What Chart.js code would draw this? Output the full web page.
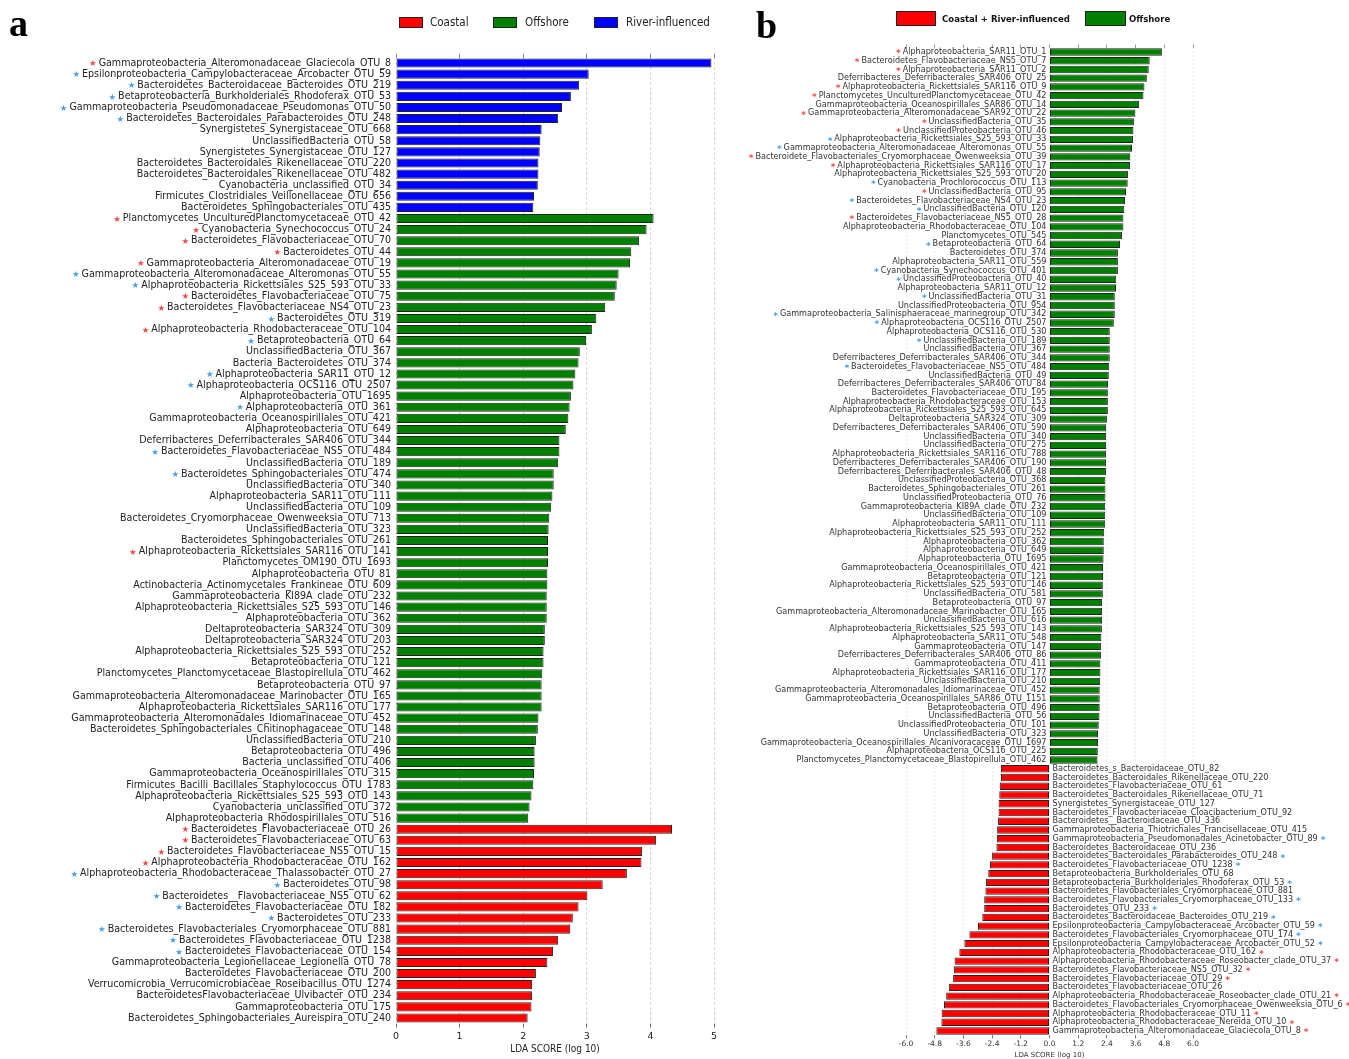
<!DOCTYPE html>
<html>
<head>
<meta charset="utf-8">
<script src="https://cdn.jsdelivr.net/npm/chart.js@4.4.0/dist/chart.umd.min.js"></script>
<style>
  body { margin: 0; background: #fff; }
  #page { position: relative; width: 1349px; height: 1059px; overflow: hidden; background: #fff; }
  #wrapA { position: absolute; left: 0; top: 0; width: 740px; height: 1059px; }
  #wrapB { position: absolute; left: 740px; top: 0; width: 609px; height: 1059px; }
  .letter { position: absolute; font: bold 38px 'Liberation Serif', 'DejaVu Serif', serif; color: #000; line-height: 1; }
  .box { position: absolute; border: 1px solid #222; box-sizing: border-box; }
  .legA { position: absolute; font: 11.5px 'DejaVu Sans Condensed', 'Liberation Sans Narrow', sans-serif; color: #222; line-height: 14px; white-space: nowrap; }
  .legB { position: absolute; font: bold 9.5px 'DejaVu Sans Condensed', 'Liberation Sans Narrow', sans-serif; color: #111; line-height: 14px; white-space: nowrap; }
</style>
</head>
<body>
<div id="page">
  <div id="wrapA"><canvas id="chartA" width="740" height="1059"></canvas></div>
  <div id="wrapB"><canvas id="chartB" width="609" height="1059"></canvas></div>

  <div class="letter" style="left:9px;top:4px">a</div>
  <div class="letter" style="left:756px;top:6px">b</div>

  <div class="box" style="left:399px;top:17px;width:24px;height:11px;background:#ff0000"></div>
  <div class="legA" style="left:430px;top:15px">Coastal</div>
  <div class="box" style="left:493px;top:17px;width:24px;height:11px;background:#008000"></div>
  <div class="legA" style="left:525px;top:15px">Offshore</div>
  <div class="box" style="left:594px;top:17px;width:24px;height:11px;background:#0000ff"></div>
  <div class="legA" style="left:626px;top:15px">River-influenced</div>

  <div class="box" style="left:896px;top:11px;width:40px;height:15px;background:#ff0000;border-width:1.5px"></div>
  <div class="legB" style="left:942px;top:12px">Coastal + River-influenced</div>
  <div class="box" style="left:1085px;top:11px;width:41px;height:15px;background:#008000;border-width:1.5px"></div>
  <div class="legB" style="left:1129px;top:12px">Offshore</div>
</div>

<script>
// ---------- panel a ----------
const aRiverLabels = [
  'Gammaproteobacteria_Alteromonadaceae_Glaciecola_OTU_8',
  'Epsilonproteobacteria_Campylobacteraceae_Arcobacter_OTU_59',
  'Bacteroidetes_Bacteroidaceae_Bacteroides_OTU_219',
  'Betaproteobacteria_Burkholderiales_Rhodoferax_OTU_53',
  'Gammaproteobacteria_Pseudomonadaceae_Pseudomonas_OTU_50',
  'Bacteroidetes_Bacteroidales_Parabacteroides_OTU_248',
  'Synergistetes_Synergistaceae_OTU_668',
  'UnclassifiedBacteria_OTU_58',
  'Synergistetes_Synergistaceae_OTU_127',
  'Bacteroidetes_Bacteroidales_Rikenellaceae_OTU_220',
  'Bacteroidetes_Bacteroidales_Rikenellaceae_OTU_482',
  'Cyanobacteria_unclassified_OTU_34',
  'Firmicutes_Clostridiales_Veillonellaceae_OTU_656',
  'Bacteroidetes_Sphingobacteriales_OTU_435'
];
const aRiverScores = [4.96, 3.03, 2.88, 2.75, 2.61, 2.55, 2.29, 2.27, 2.26, 2.24, 2.24, 2.23, 2.17, 2.16];
const aRiverStars = ['r', 'b', 'b', 'b', 'b', 'b', '', '', '', '', '', '', '', ''];

const aOffshoreLabels = [
  'Planctomycetes_UnculturedPlanctomycetaceae_OTU_42',
  'Cyanobacteria_Synechococcus_OTU_24',
  'Bacteroidetes_Flavobacteriaceae_OTU_70',
  'Bacteroidetes_OTU_44',
  'Gammaproteobacteria_Alteromonadaceae_OTU_19',
  'Gammaproteobacteria_Alteromonadaceae_Alteromonas_OTU_55',
  'Alphaproteobacteria_Rickettsiales_S25_593_OTU_33',
  'Bacteroidetes_Flavobacteriaceae_OTU_75',
  'Bacteroidetes_Flavobacteriaceae_NS4_OTU_23',
  'Bacteroidetes_OTU_319',
  'Alphaproteobacteria_Rhodobacteraceae_OTU_104',
  'Betaproteobacteria_OTU_64',
  'UnclassifiedBacteria_OTU_367',
  'Bacteria_Bacteroidetes_OTU_374',
  'Alphaproteobacteria_SAR11_OTU_12',
  'Alphaproteobacteria_OCS116_OTU_2507',
  'Alphaproteobacteria_OTU_1695',
  'Alphaproteobacteria_OTU_361',
  'Gammaproteobacteria_Oceanospirillales_OTU_421',
  'Alphaproteobacteria_OTU_649',
  'Deferribacteres_Deferribacterales_SAR406_OTU_344',
  'Bacteroidetes_Flavobacteriaceae_NS5_OTU_484',
  'UnclassifiedBacteria_OTU_189',
  'Bacteroidetes_Sphingobacteriales_OTU_474',
  'UnclassifiedBacteria_OTU_340',
  'Alphaproteobacteria_SAR11_OTU_111',
  'UnclassifiedBacteria_OTU_109',
  'Bacteroidetes_Cryomorphaceae_Owenweeksia_OTU_713',
  'UnclassifiedBacteria_OTU_323',
  'Bacteroidetes_Sphingobacteriales_OTU_261',
  'Alphaproteobacteria_Rickettsiales_SAR116_OTU_141',
  'Planctomycetes_OM190_OTU_1693',
  'Alphaproteobacteria_OTU_81',
  'Actinobacteria_Actinomycetales_Frankineae_OTU_609',
  'Gammaproteobacteria_KI89A_clade_OTU_232',
  'Alphaproteobacteria_Rickettsiales_S25_593_OTU_146',
  'Alphaproteobacteria_OTU_362',
  'Deltaproteobacteria_SAR324_OTU_309',
  'Deltaproteobacteria_SAR324_OTU_203',
  'Alphaproteobacteria_Rickettsiales_S25_593_OTU_252',
  'Betaproteobacteria_OTU_121',
  'Planctomycetes_Planctomycetaceae_Blastopirellula_OTU_462',
  'Betaproteobacteria_OTU_97',
  'Gammaproteobacteria_Alteromonadaceae_Marinobacter_OTU_165',
  'Alphaproteobacteria_Rickettsiales_SAR116_OTU_177',
  'Gammaproteobacteria_Alteromonadales_Idiomarinaceae_OTU_452',
  'Bacteroidetes_Sphingobacteriales_Chitinophagaceae_OTU_148',
  'UnclassifiedBacteria_OTU_210',
  'Betaproteobacteria_OTU_496',
  'Bacteria_unclassified_OTU_406',
  'Gammaproteobacteria_Oceanospirillales_OTU_315',
  'Firmicutes_Bacilli_Bacillales_Staphylococcus_OTU_1783',
  'Alphaproteobacteria_Rickettsiales_S25_593_OTU_143',
  'Cyanobacteria_unclassified_OTU_372',
  'Alphaproteobacteria_Rhodospirillales_OTU_516'
];
const aOffshoreScores = [
  4.05, 3.94, 3.82, 3.70, 3.68, 3.50, 3.47, 3.44, 3.29, 3.15, 3.08,
  2.99, 2.89, 2.87, 2.82, 2.79, 2.75, 2.73, 2.71, 2.67, 2.57, 2.57,
  2.55, 2.48, 2.48, 2.46, 2.44, 2.41, 2.40, 2.39, 2.39, 2.39, 2.38,
  2.38, 2.37, 2.37, 2.37, 2.34, 2.34, 2.32, 2.32, 2.30, 2.29, 2.29,
  2.29, 2.24, 2.23, 2.20, 2.18, 2.18, 2.17, 2.16, 2.13, 2.10, 2.08
];
const aOffshoreStars = [
  'r', 'r', 'r', 'r', 'r', 'b', 'b', 'r', 'r', 'b', 'r',
  'b', '', '', 'b', 'b', '', 'b', '', '', '', 'b',
  '', 'b', '', '', '', '', '', '', 'r', '', '',
  '', '', '', '', '', '', '', '', '', '', '',
  '', '', '', '', '', '', '', '', '', '', ''
];

const aCoastalLabels = [
  'Bacteroidetes_Flavobacteriaceae_OTU_26',
  'Bacteroidetes_Flavobacteriaceae_OTU_63',
  'Bacteroidetes_Flavobacteriaceae_NS5_OTU_15',
  'Alphaproteobacteria_Rhodobacteraceae_OTU_162',
  'Alphaproteobacteria_Rhodobacteraceae_Thalassobacter_OTU_27',
  'Bacteroidetes_OTU_98',
  'Bacteroidetes__Flavobacteriaceae_NS5_OTU_62',
  'Bacteroidetes_Flavobacteriaceae_OTU_182',
  'Bacteroidetes_OTU_233',
  'Bacteroidetes_Flavobacteriales_Cryomorphaceae_OTU_881',
  'Bacteroidetes_Flavobacteriaceae_OTU_1238',
  'Bacteroidetes_Flavobacteriaceae_OTU_154',
  'Gammaproteobacteria_Legionellaceae_Legionella_OTU_78',
  'Bacteroidetes_Flavobacteriaceae_OTU_200',
  'Verrucomicrobia_Verrucomicrobiaceae_Roseibacillus_OTU_1274',
  'BacteroidetesFlavobacteriaceae_Ulvibacter_OTU_234',
  'Gammaproteobacteria_OTU_175',
  'Bacteroidetes_Sphingobacteriales_Aureispira_OTU_240'
];
const aCoastalScores = [4.34, 4.09, 3.87, 3.86, 3.63, 3.25, 3.01, 2.87, 2.78, 2.74, 2.55, 2.47, 2.38, 2.20, 2.14, 2.14, 2.13, 2.07];
const aCoastalStars = ['r', 'r', 'r', 'r', 'b', 'b', 'b', 'b', 'b', 'b', 'b', 'b', '', '', '', '', '', ''];

const ticksA = [0, 1, 2, 3, 4, 5];

// ---------- panel b ----------
const bOffshoreLabels = [
  'Alphaproteobacteria_SAR11_OTU_1',
  'Bacteroidetes_Flavobacteriaceae_NS5_OTU_7',
  'Alphaproteobacteria_SAR11_OTU_2',
  'Deferribacteres_Deferribacterales_SAR406_OTU_25',
  'Alphaproteobacteria_Rickettsiales_SAR116_OTU_9',
  'Planctomycetes_UnculturedPlanctomycetaceae_OTU_42',
  'Gammaproteobacteria_Oceanospirillales_SAR86_OTU_14',
  'Gammaproteobacteria_Alteromonadaceae_SAR92_OTU_22',
  'UnclassifiedBacteria_OTU_35',
  'UnclassifiedProteobacteria_OTU_46',
  'Alphaproteobacteria_Rickettsiales_S25_593_OTU_33',
  'Gammaproteobacteria_Alteromonadaceae_Alteromonas_OTU_55',
  'Bacteroidete_Flavobacteriales_Cryomorphaceae_Owenweeksia_OTU_39',
  'Alphaproteobacteria_Rickettsiales_SAR116_OTU_17',
  'Alphaproteobacteria_Rickettsiales_S25_593_OTU_20',
  'Cyanobacteria_Prochlorococcus_OTU_113',
  'UnclassifiedBacteria_OTU_95',
  'Bacteroidetes_Flavobacteriaceae_NS4_OTU_23',
  'UnclassifiedBacteria_OTU_120',
  'Bacteroidetes_Flavobacteriaceae_NS5_OTU_28',
  'Alphaproteobacteria_Rhodobacteraceae_OTU_104',
  'Planctomycetes_OTU_545',
  'Betaproteobacteria_OTU_64',
  'Bacteroidetes_OTU_374',
  'Alphaproteobacteria_SAR11_OTU_559',
  'Cyanobacteria_Synechococcus_OTU_401',
  'UnclassifiedProteobacteria_OTU_40',
  'Alphaproteobacteria_SAR11_OTU_12',
  'UnclassifiedBacteria_OTU_31',
  'UnclassifiedProteobacteria_OTU_954',
  'Gammaproteobacteria_Salinisphaeraceae_marinegroup_OTU_342',
  'Alphaproteobacteria_OCS116_OTU_2507',
  'Alphaproteobacteria_OCS116_OTU_530',
  'UnclassifiedBacteria_OTU_189',
  'UnclassifiedBacteria_OTU_367',
  'Deferribacteres_Deferribacterales_SAR406_OTU_344',
  'Bacteroidetes_Flavobacteriaceae_NS5_OTU_484',
  'UnclassifiedBacteria_OTU_49',
  'Deferribacteres_Deferribacterales_SAR406_OTU_84',
  'Bacteroidetes_Flavobacteriaceae_OTU_195',
  'Alphaproteobacteria_Rhodobacteraceae_OTU_153',
  'Alphaproteobacteria_Rickettsiales_S25_593_OTU_645',
  'Deltaproteobacteria_SAR324_OTU_309',
  'Deferribacteres_Deferribacterales_SAR406_OTU_590',
  'UnclassifiedBacteria_OTU_340',
  'UnclassifiedBacteria_OTU_275',
  'Alphaproteobacteria_Rickettsiales_SAR116_OTU_788',
  'Deferribacteres_Deferribacterales_SAR406_OTU_190',
  'Deferribacteres_Deferribacterales_SAR406_OTU_48',
  'UnclassifiedProteobacteria_OTU_368',
  'Bacteroidetes_Sphingobacteriales_OTU_261',
  'UnclassifiedProteobacteria_OTU_76',
  'Gammaproteobacteria_KI89A_clade_OTU_232',
  'UnclassifiedBacteria_OTU_109',
  'Alphaproteobacteria_SAR11_OTU_111',
  'Alphaproteobacteria_Rickettsiales_S25_593_OTU_252',
  'Alphaproteobacteria_OTU_362',
  'Alphaproteobacteria_OTU_649',
  'Alphaproteobacteria_OTU_1695',
  'Gammaproteobacteria_Oceanospirillales_OTU_421',
  'Betaproteobacteria_OTU_121',
  'Alphaproteobacteria_Rickettsiales_S25_593_OTU_146',
  'UnclassifiedBacteria_OTU_581',
  'Betaproteobacteria_OTU_97',
  'Gammaproteobacteria_Alteromonadaceae_Marinobacter_OTU_165',
  'UnclassifiedBacteria_OTU_616',
  'Alphaproteobacteria_Rickettsiales_S25_593_OTU_143',
  'Alphaproteobacteria_SAR11_OTU_548',
  'Gammaproteobacteria_OTU_147',
  'Deferribacteres_Deferribacterales_SAR406_OTU_86',
  'Gammaproteobacteria_OTU_411',
  'Alphaproteobacteria_Rickettsiales_SAR116_OTU_177',
  'UnclassifiedBacteria_OTU_210',
  'Gammaproteobacteria_Alteromonadales_Idiomarinaceae_OTU_452',
  'Gammaproteobacteria_Oceanospirillales_SAR86_OTU_1151',
  'Betaproteobacteria_OTU_496',
  'UnclassifiedBacteria_OTU_56',
  'UnclassifiedProteobacteria_OTU_101',
  'UnclassifiedBacteria_OTU_323',
  'Gammaproteobacteria_Oceanospirillales_Alcanivoracaceae_OTU_1697',
  'Alphaproteobacteria_OCS116_OTU_225',
  'Planctomycetes_Planctomycetaceae_Blastopirellula_OTU_462'
];
const bOffshoreScores = [
  4.70, 4.19, 4.15, 4.07, 3.97, 3.93, 3.74, 3.59, 3.53, 3.51,
  3.49, 3.45, 3.38, 3.37, 3.28, 3.27, 3.20, 3.16, 3.13, 3.09,
  3.09, 3.03, 2.95, 2.86, 2.86, 2.86, 2.79, 2.78, 2.73, 2.73,
  2.73, 2.69, 2.52, 2.52, 2.52, 2.52, 2.50, 2.48, 2.45, 2.44,
  2.44, 2.44, 2.40, 2.37, 2.37, 2.37, 2.36, 2.36, 2.36, 2.34,
  2.34, 2.34, 2.33, 2.33, 2.33, 2.29, 2.27, 2.27, 2.26, 2.24,
  2.24, 2.23, 2.23, 2.20, 2.20, 2.20, 2.19, 2.17, 2.15, 2.15,
  2.13, 2.13, 2.12, 2.10, 2.10, 2.10, 2.09, 2.06, 2.03, 2.03,
  2.02, 2.01
];
const bOffshoreStars = [
  'r', 'r', 'r', '', 'r', 'r', '', 'r', 'r', 'r',
  'b', 'b', 'r', 'r', '', 'b', 'r', 'b', 'b', 'r',
  '', '', 'b', '', '', 'b', 'b', '', 'b', '',
  'b', 'b', '', 'b', '', '', 'b', '', '', '',
  '', '', '', '', '', '', '', '', '', '',
  '', '', '', '', '', '', '', '', '', '',
  '', '', '', '', '', '', '', '', '', '',
  '', '', '', '', '', '', '', '', '', '',
  '', ''
];

const bCoastalLabels = [
  'Bacteroidetes_s_Bacteroidaceae_OTU_82',
  'Bacteroidetes_Bacteroidales_Rikenellaceae_OTU_220',
  'Bacteroidetes_Flavobacteriaceae_OTU_61',
  'Bacteroidetes_Bacteroidales_Rikenellaceae_OTU_71',
  'Synergistetes_Synergistaceae_OTU_127',
  'Bacteroidetes_Flavobacteriaceae_Cloacibacterium_OTU_92',
  'Bacteroidetes__Bacteroidaceae_OTU_336',
  'Gammaproteobacteria_Thiotrichales_Francisellaceae_OTU_415',
  'Gammaproteobacteria_Pseudomonadales_Acinetobacter_OTU_89',
  'Bacteroidetes_Bacteroidaceae_OTU_236',
  'Bacteroidetes_Bacteroidales_Parabacteroides_OTU_248',
  'Bacteroidetes_Flavobacteriaceae_OTU_1238',
  'Betaproteobacteria_Burkholderiales_OTU_68',
  'Betaproteobacteria_Burkholderiales_Rhodoferax_OTU_53',
  'Bacteroidetes_Flavobacteriales_Cryomorphaceae_OTU_881',
  'Bacteroidetes_Flavobacteriales_Cryomorphaceae_OTU_133',
  'Bacteroidetes_OTU_233',
  'Bacteroidetes_Bacteroidaceae_Bacteroides_OTU_219',
  'Epsilonproteobacteria_Campylobacteraceae_Arcobacter_OTU_59',
  'Bacteroidetes_Flavobacteriales_Cryomorphaceae_OTU_174',
  'Epsilonproteobacteria_Campylobacteraceae_Arcobacter_OTU_52',
  'Alphaproteobacteria_Rhodobacteraceae_OTU_162',
  'Alphaproteobacteria_Rhodobacteraceae_Roseobacter_clade_OTU_37',
  'Bacteroidetes_Flavobacteriaceae_NS5_OTU_32',
  'Bacteroidetes_Flavobacteriaceae_OTU_29',
  'Bacteroidetes_Flavobacteriaceae_OTU_26',
  'Alphaproteobacteria_Rhodobacteraceae_Roseobacter_clade_OTU_21',
  'Bacteroidetes_Flavobacteriales_Cryomorphaceae_Owenweeksia_OTU_6',
  'Alphaproteobacteria_Rhodobacteraceae_OTU_11',
  'Alphaproteobacteria_Rhodobacteraceae_Nereida_OTU_10',
  'Gammaproteobacteria_Alteromonadaceae_Glaciecola_OTU_8'
];
const bCoastalScores = [
  -2.03, -2.03, -2.08, -2.10, -2.13, -2.13, -2.15, -2.19, -2.20, -2.22,
  -2.40, -2.49, -2.56, -2.66, -2.68, -2.73, -2.73, -2.81, -2.99, -3.35,
  -3.56, -3.77, -3.97, -4.00, -4.03, -4.21, -4.32, -4.41, -4.51, -4.52,
  -4.73
];
const bCoastalStars = [
  '', '', '', '', '', '', '', '', 'b', '',
  'b', 'b', '', 'b', '', 'b', 'b', 'b', 'b', 'b',
  'b', 'r', 'r', 'r', 'r', '', 'r', 'r', 'r', 'r',
  'r'
];

const ticksB = [-6.0, -4.8, -3.6, -2.4, -1.2, 0.0, 1.2, 2.4, 3.6, 4.8, 6.0];

// ---------- styles ----------
const RED = '#ff0000', GREEN = '#008000', BLUE = '#0000ff';
const STAR_RED = '#f24b4b', STAR_BLUE = '#4a9fe0';
const FAMILY_A = "'DejaVu Sans Condensed', 'Liberation Sans Narrow', sans-serif";
const FAMILY_B = "'DejaVu Sans', sans-serif";
const LABEL_SIZE_A = 10.6, LABEL_PAD_A = 5;
const LABEL_SIZE_B = 8.1;

const labelsA = [...aRiverLabels, ...aOffshoreLabels, ...aCoastalLabels];
const scoresA = [...aRiverScores, ...aOffshoreScores, ...aCoastalScores];
const starsA = [...aRiverStars, ...aOffshoreStars, ...aCoastalStars];
const colorsA = [...aRiverLabels.map(() => BLUE), ...aOffshoreLabels.map(() => GREEN), ...aCoastalLabels.map(() => RED)];

const labelsB = [...bOffshoreLabels, ...bCoastalLabels];
const scoresB = [...bOffshoreScores, ...bCoastalScores];
const starsB = [...bOffshoreStars, ...bCoastalStars];
const colorsB = [...bOffshoreLabels.map(() => GREEN), ...bCoastalLabels.map(() => RED)];

const fixTicks = (list) => (scale) => { scale.ticks = list.map(v => ({ value: v })); };

// stars in front of the panel a axis labels
const starsPluginA = {
    id: 'starsA',
    afterDraw(chart) {
        const { ctx, scales: { y } } = chart;
        ctx.save();
        ctx.textBaseline = 'middle';
        ctx.textAlign = 'right';
        labelsA.forEach((lab, i) => {
            const s = starsA[i];
            if (!s) return;
            ctx.font = `${LABEL_SIZE_A}px ${FAMILY_A}`;
            const w = ctx.measureText(lab).width;
            ctx.font = `8.5px 'DejaVu Sans', sans-serif`;
            ctx.fillStyle = s === 'r' ? STAR_RED : STAR_BLUE;
            ctx.fillText('\u2605', y.right - LABEL_PAD_A - w - 2, y.getPixelForValue(i) + 1);
        });
        ctx.restore();
    }
};

// panel b labels sit against the zero line, on the side opposite the bar
const labelsPluginB = {
    id: 'labelsB',
    afterDatasetsDraw(chart) {
        const { ctx, scales: { x, y } } = chart;
        const x0 = x.getPixelForValue(0);
        ctx.save();
        ctx.textBaseline = 'middle';
        labelsB.forEach((lab, i) => {
            const yy = y.getPixelForValue(i);
            const pos = scoresB[i] > 0;
            const tx = pos ? x0 - 3 : x0 + 3;
            ctx.font = `${LABEL_SIZE_B}px ${FAMILY_B}`;
            ctx.fillStyle = '#333';
            ctx.textAlign = pos ? 'right' : 'left';
            ctx.fillText(lab, tx, yy);
            const s = starsB[i];
            if (!s) return;
            const w = ctx.measureText(lab).width;
            ctx.font = `bold 9px 'DejaVu Sans', sans-serif`;
            ctx.fillStyle = s === 'r' ? STAR_RED : STAR_BLUE;
            ctx.fillText('*', pos ? tx - w - 2 : tx + w + 3, yy + 2);
        });
        ctx.restore();
    }
};

new Chart(document.getElementById('chartA'), {
    type: 'bar',
    data: {
        labels: labelsA,
        datasets: [{
            data: scoresA,
            backgroundColor: colorsA,
            borderColor: '#222',
            borderWidth: 1,
            borderSkipped: false,
            categoryPercentage: 1,
            barPercentage: 0.82
        }]
    },
    options: {
        responsive: false,
        animation: false,
        indexAxis: 'y',
        layout: { padding: { left: 0, right: 26, top: 53.5, bottom: 1 } },
        plugins: { legend: { display: false }, tooltip: { enabled: false } },
        scales: {
            y: {
                afterFit: (s) => { s.width = 396; },
                grid: { display: false, drawTicks: false },
                border: { display: false },
                ticks: { autoSkip: false, padding: LABEL_PAD_A, color: '#222', font: { family: FAMILY_A, size: LABEL_SIZE_A } }
            },
            x: {
                min: 0, max: 5,
                afterBuildTicks: fixTicks(ticksA),
                afterFit: (s) => { s.height = 34.5; },
                grid: { color: '#c8c8c8', tickColor: '#666', tickLength: 4, tickBorderDash: [] },
                border: { display: false, dash: [2, 3] },
                ticks: { color: '#222', padding: 3, font: { family: "'DejaVu Sans', sans-serif", size: 9.5 } },
                title: { display: true, text: 'LDA SCORE (log 10)', color: '#222', padding: { top: 2, bottom: 3 }, font: { family: FAMILY_A, size: 10 } }
            },
            xTop: {
                type: 'linear', axis: 'x', position: 'top',
                min: 0, max: 5,
                afterBuildTicks: fixTicks(ticksA),
                afterFit: (s) => { s.height = 4; },
                grid: { drawOnChartArea: false, tickColor: '#888', tickLength: 4 },
                border: { display: false },
                ticks: { display: false }
            }
        }
    },
    plugins: [starsPluginA]
});

new Chart(document.getElementById('chartB'), {
    type: 'bar',
    data: {
        labels: labelsB,
        datasets: [{
            data: scoresB,
            backgroundColor: colorsB,
            borderColor: '#222',
            borderWidth: 1,
            borderSkipped: false,
            categoryPercentage: 1,
            barPercentage: 0.84
        }]
    },
    options: {
        responsive: false,
        animation: false,
        indexAxis: 'y',
        layout: { padding: { left: 166, right: 156, top: 43.6, bottom: 0 } },
        plugins: { legend: { display: false }, tooltip: { enabled: false } },
        scales: {
            y: { display: false },
            x: {
                min: -6, max: 6,
                afterBuildTicks: fixTicks(ticksB),
                afterFit: (s) => { s.height = 23.6; },
                grid: { color: '#d8d8d8', tickColor: '#777', tickLength: 3, tickBorderDash: [] },
                border: { display: false, dash: [1, 3] },
                ticks: { color: '#333', padding: 1, font: { family: FAMILY_B, size: 7.5 }, callback: (v) => v.toFixed(1) },
                title: { display: true, text: 'LDA SCORE (log 10)', color: '#333', padding: { top: 0, bottom: 0 }, font: { family: FAMILY_B, size: 7 } }
            },
            xTop: {
                type: 'linear', axis: 'x', position: 'top',
                min: -6, max: 6,
                afterBuildTicks: fixTicks(ticksB),
                afterFit: (s) => { s.height = 4; },
                grid: { drawOnChartArea: false, tickColor: '#999', tickLength: 3 },
                border: { display: false },
                ticks: { display: false }
            }
        }
    },
    plugins: [labelsPluginB]
});
</script>
</body>
</html>
